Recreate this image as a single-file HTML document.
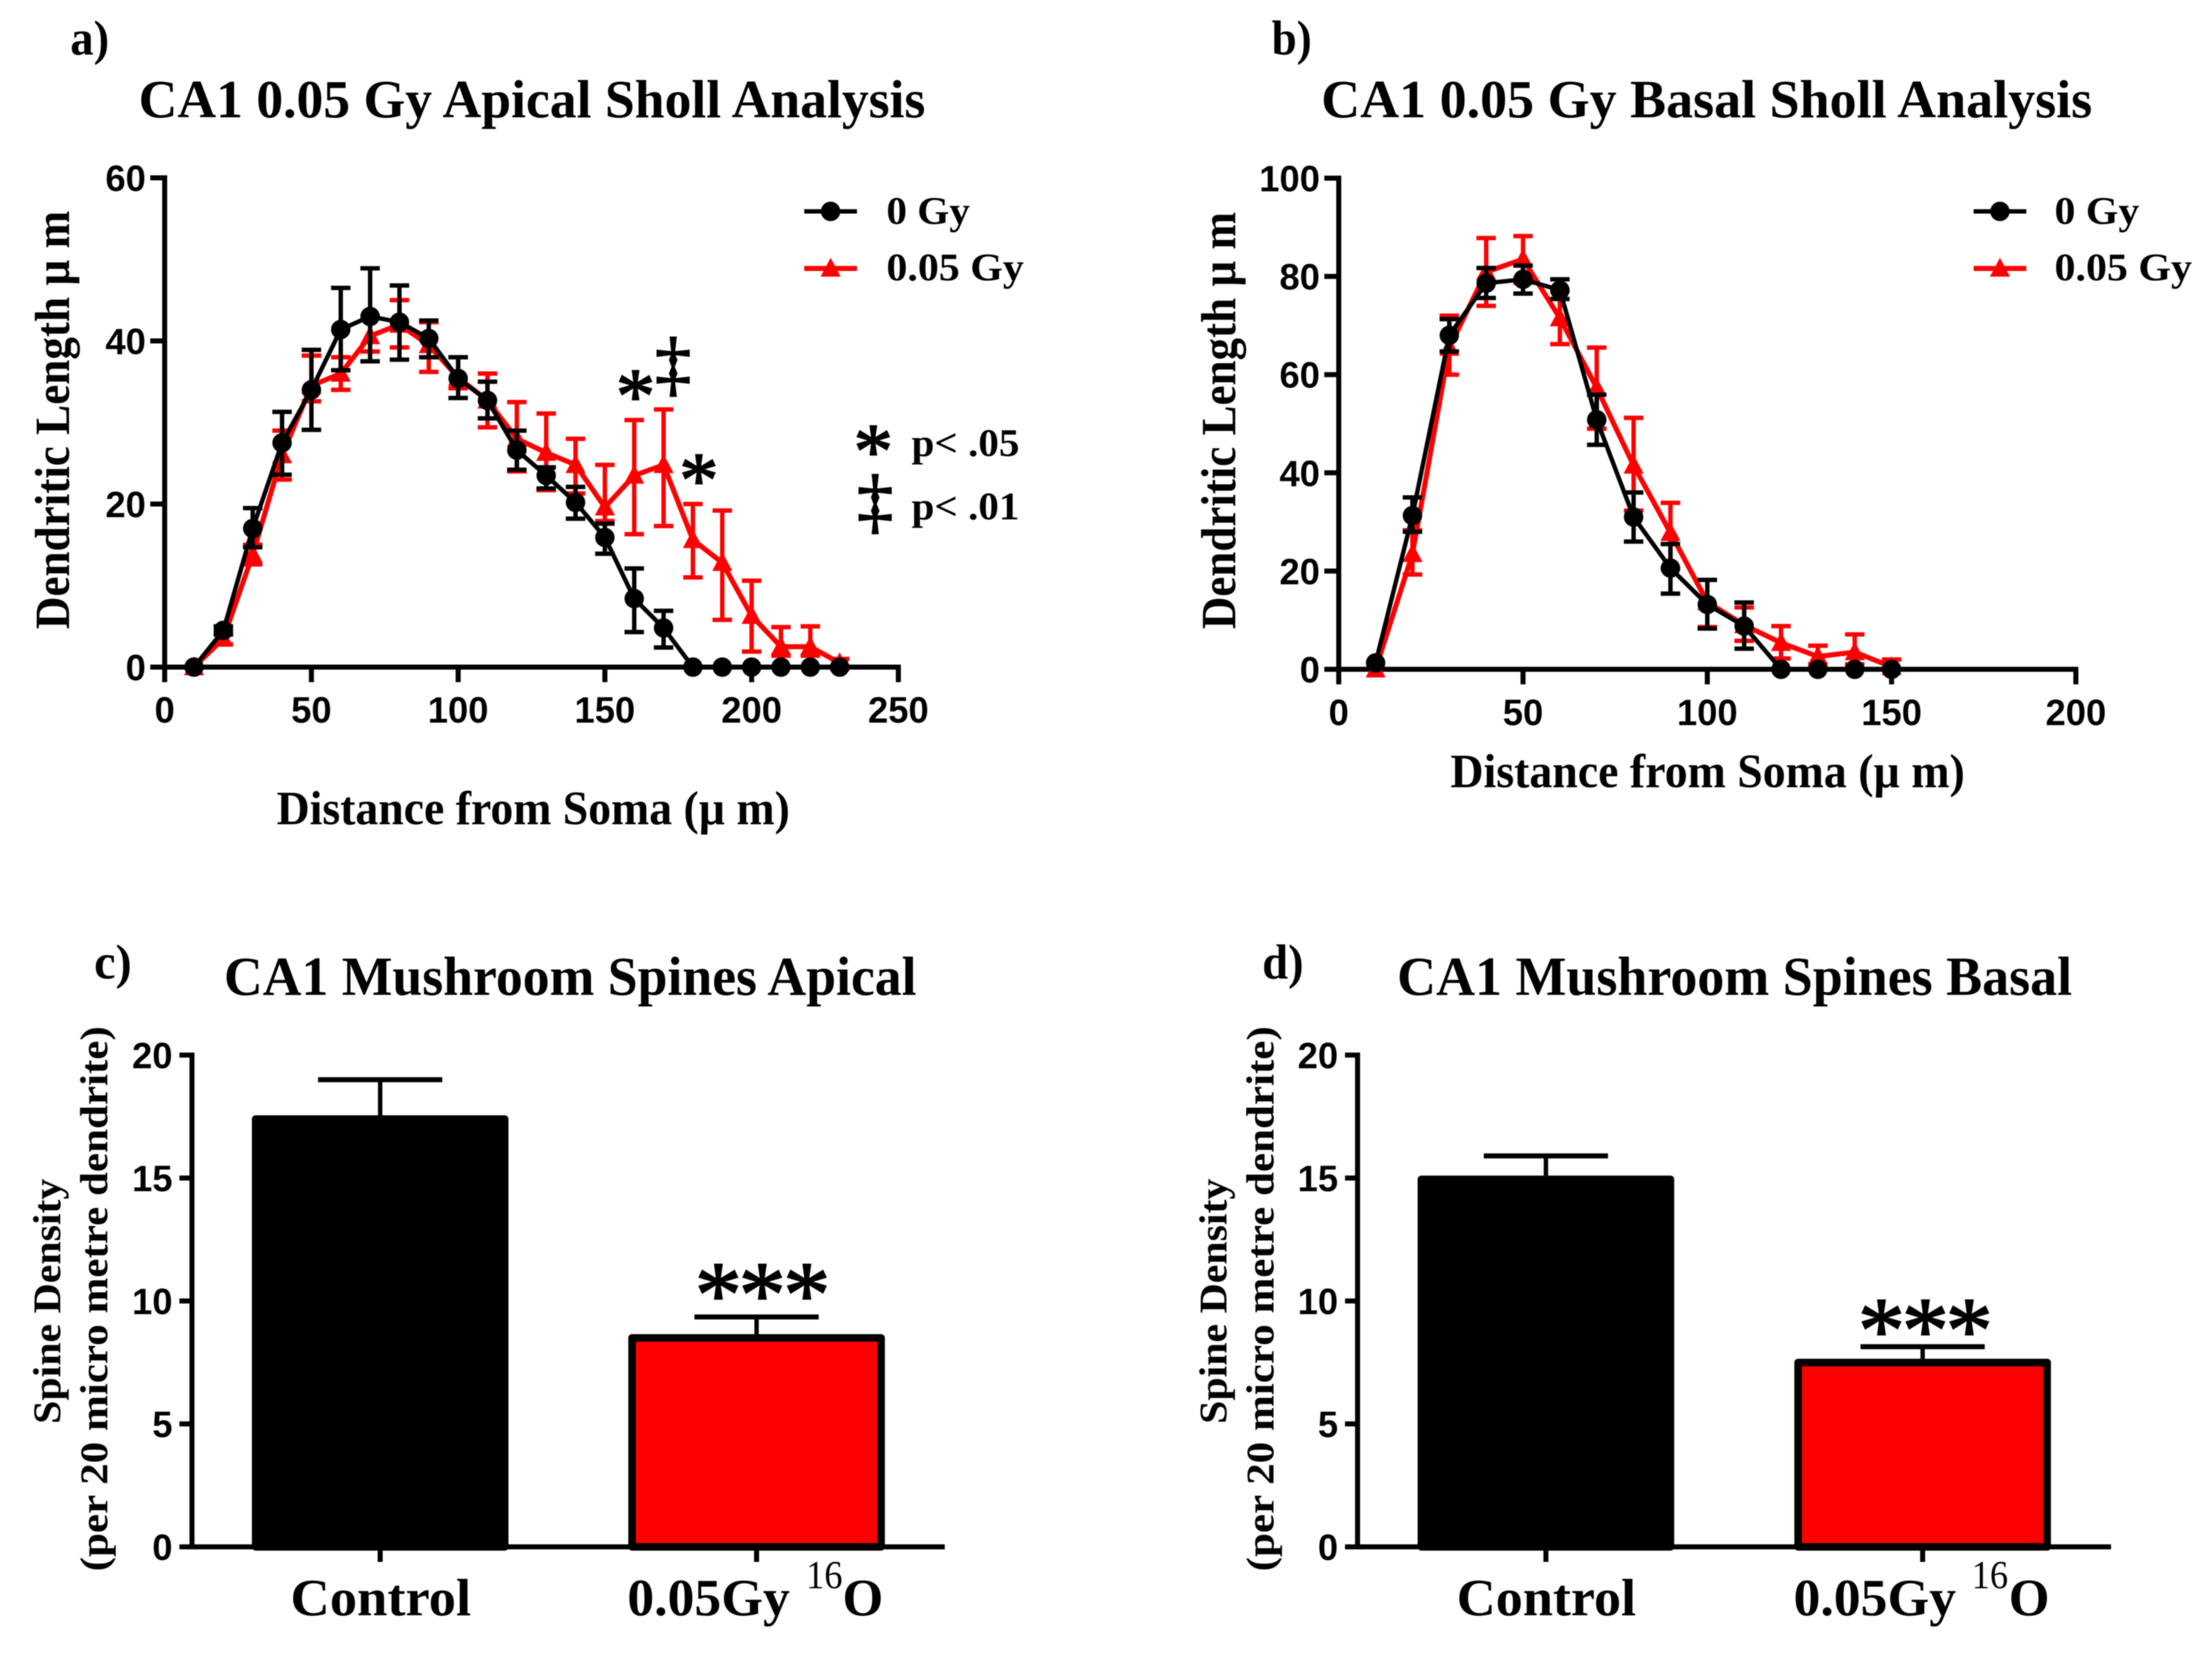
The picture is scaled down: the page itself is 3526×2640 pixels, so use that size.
<!DOCTYPE html>
<html lang="en">
<head>
<meta charset="utf-8">
<title>CA1 0.05 Gy Sholl Analysis and Mushroom Spines</title>
<style>
html,body{margin:0;padding:0;background:#fff;}
svg{display:block;filter:blur(0.7px);}
text{fill:#000;}
.serif{font-family:"Liberation Serif",serif;font-weight:bold;}
.sans{font-family:"Liberation Sans",sans-serif;font-weight:bold;}
.mark{font-weight:normal;stroke:#000;stroke-width:2.5px;}
</style>
</head>
<body>
<svg id="figure" xmlns="http://www.w3.org/2000/svg" width="3526" height="2640" viewBox="0 0 3526 2640">
<rect width="3526" height="2640" fill="#fff"/>
<g id="panel-a"></g>
<g id="panel-b"></g>
<g id="panel-c"></g>
<g id="panel-d"></g>

<text class="serif" x="112" y="87" font-size="78" textLength="62" lengthAdjust="spacingAndGlyphs">a)</text>
<text class="serif" x="221" y="187" font-size="86" textLength="1254" lengthAdjust="spacingAndGlyphs">CA1 0.05 Gy Apical Sholl Analysis</text>
<text class="serif" transform="translate(110 1003) rotate(-90)" font-size="78" textLength="667" lengthAdjust="spacingAndGlyphs">Dendritic Length µ m</text>
<text class="serif" x="441" y="1314" font-size="76" textLength="818" lengthAdjust="spacingAndGlyphs">Distance from Soma (µ m)</text>
<text class="serif" x="1413" y="357" font-size="62" textLength="133" lengthAdjust="spacingAndGlyphs">0 Gy</text>
<text class="serif" x="1413" y="447" font-size="62" textLength="219" lengthAdjust="spacingAndGlyphs">0.05 Gy</text>
<text class="serif mark" x="1013" y="673" font-size="125" text-anchor="middle">*</text>
<text class="serif mark" x="1073" y="618" font-size="115" text-anchor="middle">‡</text>
<text class="serif mark" x="1114" y="807" font-size="125" text-anchor="middle">*</text>
<text class="serif mark" x="1392" y="761" font-size="125" text-anchor="middle">*</text>
<text class="serif" x="1453" y="727" font-size="62" textLength="172" lengthAdjust="spacingAndGlyphs">p&lt; .05</text>
<text class="serif mark" x="1395" y="837" font-size="115" text-anchor="middle">‡</text>
<text class="serif" x="1453" y="828" font-size="62" textLength="172" lengthAdjust="spacingAndGlyphs">p&lt; .01</text>

<text class="serif" x="2027" y="87" font-size="78" textLength="64" lengthAdjust="spacingAndGlyphs">b)</text>
<text class="serif" x="2106" y="187" font-size="86" textLength="1229" lengthAdjust="spacingAndGlyphs">CA1 0.05 Gy Basal Sholl Analysis</text>
<text class="serif" transform="translate(1969 1003) rotate(-90)" font-size="78" textLength="665" lengthAdjust="spacingAndGlyphs">Dendritic Length µ m</text>
<text class="serif" x="2312" y="1255" font-size="76" textLength="820" lengthAdjust="spacingAndGlyphs">Distance from Soma (µ m)</text>
<text class="serif" x="3275" y="357" font-size="62" textLength="135" lengthAdjust="spacingAndGlyphs">0 Gy</text>
<text class="serif" x="3275" y="447" font-size="62" textLength="219" lengthAdjust="spacingAndGlyphs">0.05 Gy</text>

<text class="serif" x="150" y="1560" font-size="78" textLength="60" lengthAdjust="spacingAndGlyphs">c)</text>
<text class="serif" x="357" y="1586" font-size="88" textLength="1104" lengthAdjust="spacingAndGlyphs">CA1 Mushroom Spines Apical</text>
<text class="serif" transform="translate(96 2270) rotate(-90)" font-size="62" textLength="391" lengthAdjust="spacingAndGlyphs">Spine Density</text>
<text class="serif" transform="translate(171 2505) rotate(-90)" font-size="62" textLength="869" lengthAdjust="spacingAndGlyphs">(per 20 micro metre dendrite)</text>
<text class="serif mark" x="1145 1215 1286" y="2114" font-size="150" text-anchor="middle">***</text>
<text class="serif" x="463" y="2575" font-size="84" textLength="288" lengthAdjust="spacingAndGlyphs">Control</text>
<text class="serif" x="1000" y="2575" font-size="84" textLength="259" lengthAdjust="spacingAndGlyphs">0.05Gy</text>
<text class="serif" x="1285" y="2532" font-size="64" style="font-weight:normal" textLength="58" lengthAdjust="spacingAndGlyphs">16</text>
<text class="serif" x="1343" y="2575" font-size="84" textLength="65" lengthAdjust="spacingAndGlyphs">O</text>

<text class="serif" x="2012" y="1560" font-size="78" textLength="66" lengthAdjust="spacingAndGlyphs">d)</text>
<text class="serif" x="2227" y="1586" font-size="88" textLength="1076" lengthAdjust="spacingAndGlyphs">CA1 Mushroom Spines Basal</text>
<text class="serif" transform="translate(1955 2270) rotate(-90)" font-size="62" textLength="391" lengthAdjust="spacingAndGlyphs">Spine Density</text>
<text class="serif" transform="translate(2030 2505) rotate(-90)" font-size="62" textLength="869" lengthAdjust="spacingAndGlyphs">(per 20 micro metre dendrite)</text>
<text class="serif mark" x="2999 3069 3139" y="2171" font-size="150" text-anchor="middle">***</text>
<text class="serif" x="2322" y="2575" font-size="84" textLength="286" lengthAdjust="spacingAndGlyphs">Control</text>
<text class="serif" x="2859" y="2575" font-size="84" textLength="259" lengthAdjust="spacingAndGlyphs">0.05Gy</text>
<text class="serif" x="3143" y="2532" font-size="64" style="font-weight:normal" textLength="58" lengthAdjust="spacingAndGlyphs">16</text>
<text class="serif" x="3202" y="2575" font-size="84" textLength="65" lengthAdjust="spacingAndGlyphs">O</text>
</svg>

<script>
// Panel a: apical Sholl analysis
const aDistance = [10,20,30,40,50,60,70,80,90,100,110,120,130,140,150,160,170,180,190,200,210,220,230];
const aControlMean = [0,4.5,17,27.5,34,41.4,43,42.3,40.3,35.4,32.7,26.6,23.5,20.2,15.9,8.4,4.8,0,0,0,0,0,0];
const aControlHigh = [0,5,19.5,31.3,38.9,46.5,48.9,46.8,42.5,38,35,29,24.5,22.1,17.6,12.1,6.9,0,0,0,0,0,0];
const aControlLow = [0,4,14.7,23.6,29.1,36.4,37.5,37.7,38,33,30.5,24.2,21.9,18.2,13.9,4.3,2.4,0,0,0,0,0,0];
const aDoseMean = [0,3.5,13.8,26,34.5,36,40.6,42,39.5,35.5,32.7,28,26.3,24.8,19.6,23.5,24.8,15.6,12.8,6.3,2.5,2.5,0.5];
const aDoseHigh = [0,4.2,15,29,38.2,38,43,45,42.3,38,36,32.5,31.1,28,24.8,30.3,31.6,20,19.2,10.6,4.9,5,1];
const aDoseLow = [0,2.8,12.6,23,32.6,34,38.7,39.2,36.2,34.2,29.4,24,21.7,21.3,17.9,16.3,17.3,11,5.8,1.9,1.4,1.4,0];
const aXTicks = [0,50,100,150,200,250];
const aYTicks = [0,20,40,60];

// Panel b: basal Sholl analysis
const bDistance = [10,20,30,40,50,60,70,80,90,100,110,120,130,140,150];
const bControlMean = [1.3,31.3,68,78.6,79.4,77.2,50.8,31,20.6,13.2,8.8,0,0,0,0];
const bControlHigh = [1.3,35,71.3,81.7,82.2,79.4,55.9,36,25.5,18.2,13.6,0,0,0,0];
const bControlLow = [1.3,28,64.7,75.6,76.5,75.4,45.7,26,15.4,8.3,4.2,0,0,0,0];
const bDoseMean = [0,23.5,65.5,80.9,83.5,71.5,57.3,41.5,27.8,13.7,9,5.4,2.6,3.5,0.5];
const bDoseHigh = [0,28.3,72,87.8,88.2,77,65.5,51.2,33.9,18.2,12.6,8.8,4.8,7.1,2];
const bDoseLow = [0,19.3,60,74,78.7,66.2,49,32.3,20.5,8.6,5.8,2.2,1,1,0];
const bXTicks = [0,50,100,150,200];
const bYTicks = [0,20,40,60,80,100];

// Panels c and d: mushroom spine density
const spineCategories = ['Control','0.05Gy 16O'];
const spineYTicks = [0,5,10,15,20];
const cBarValues = [17.55,8.65];
const cBarErrors = [19,9.35];
const dBarValues = [15.1,7.65];
const dBarErrors = [15.9,8.14];

const NS = 'http://www.w3.org/2000/svg';
const RED = '#ff0000';
const BLACK = '#000000';

function linear(d0, d1, r0, r1) {
  return function (v) { return r0 + (v - d0) * (r1 - r0) / (d1 - d0); };
}

function make(tag, attrs, parent) {
  const node = document.createElementNS(NS, tag);
  for (const key in attrs) node.setAttribute(key, attrs[key]);
  parent.appendChild(node);
  return node;
}

function drawSeg(parent, x1, y1, x2, y2, width, color, name) {
  const el = make('line', {x1: x1, y1: y1, x2: x2, y2: y2, stroke: color, 'stroke-width': width}, parent);
  
  
  return el;
}

function drawTickLabel(parent, x, y, label, anchor, name) {
  const el = make('text', {x: x, y: y, 'text-anchor': anchor, 'font-size': 58, class: 'sans'}, parent);
  el.textContent = label;
  
  
  return el;
}

function drawTriangle(parent, cx, cy, name) {
  const el = make('polygon', {points: (cx - 16) + ',' + (cy + 13) + ' ' + (cx + 16) + ',' + (cy + 13) + ' ' + cx + ',' + (cy - 17), fill: RED}, parent);
  
  
  return el;
}

function drawCircle(parent, cx, cy, name) {
  const el = make('circle', {cx: cx, cy: cy, r: 15.5, fill: BLACK}, parent);
  
  
  return el;
}

function drawSeries(parent, xs, mean, high, low, sx, sy, color, lineWidth, marker, label) {
  const pts = xs.map(function (d, i) { return sx(d) + ',' + sy(mean[i]); }).join(' ');
  const line = make('polyline', {points: pts, fill: 'none', stroke: color, 'stroke-width': lineWidth, 'stroke-linejoin': 'round'}, parent);
  
  
  xs.forEach(function (d, i) {
    if (high[i] !== low[i]) {
      drawSeg(parent, sx(d), sy(high[i]), sx(d), sy(low[i]), 7, color, label + '-error-bar-' + d);
      drawSeg(parent, sx(d) - 15.5, sy(high[i]), sx(d) + 15.5, sy(high[i]), 7, color, label + '-error-cap-high-' + d);
      drawSeg(parent, sx(d) - 15.5, sy(low[i]), sx(d) + 15.5, sy(low[i]), 7, color, label + '-error-cap-low-' + d);
    }
    if (marker === 'circle') drawCircle(parent, sx(d), sy(mean[i]), label + '-point-' + d);
    else drawTriangle(parent, sx(d), sy(mean[i]), label + '-point-' + d);
  });
}

function drawLegendKey(parent, x1, x2, y, color, lineWidth, marker, name) {
  drawSeg(parent, x1, y, x2, y, lineWidth, color, name + '-line');
  const cx = (x1 + x2) / 2;
  if (marker === 'circle') drawCircle(parent, cx, y, name + '-marker');
  else drawTriangle(parent, cx, y, name + '-marker');
}

function drawLinePanel(cfg) {
  const g = document.getElementById(cfg.id);
  const sx = linear(cfg.xTicks[0], cfg.xTicks[cfg.xTicks.length - 1], cfg.x0, cfg.x1);
  const sy = linear(cfg.yTicks[0], cfg.yTicks[cfg.yTicks.length - 1], cfg.y0, cfg.y1);
  // axes
  drawSeg(g, cfg.x0, cfg.y1 - 4, cfg.x0, cfg.y0 + 24, 8, BLACK, cfg.prefix + '-y-axis');
  drawSeg(g, cfg.x0 - 23, cfg.y0, cfg.x1 + 4, cfg.y0, 8, BLACK, cfg.prefix + '-x-axis');
  cfg.yTicks.forEach(function (t) {
    drawSeg(g, cfg.x0 - 23, sy(t), cfg.x0, sy(t), 8, BLACK, cfg.prefix + '-y-tick-' + t);
    drawTickLabel(g, cfg.x0 - 30, sy(t) + 21, String(t), 'end', cfg.prefix + '-y-tick-label-' + t);
  });
  cfg.xTicks.forEach(function (t) {
    drawSeg(g, sx(t), cfg.y0, sx(t), cfg.y0 + 24, 8, BLACK, cfg.prefix + '-x-tick-' + t);
    drawTickLabel(g, sx(t), cfg.tickBase, String(t), 'middle', cfg.prefix + '-x-tick-label-' + t);
  });
  // series: red under black
  drawSeries(g, cfg.xs, cfg.doseMean, cfg.doseHigh, cfg.doseLow, sx, sy, RED, 8, 'triangle', cfg.prefix + '-dose-series');
  drawSeries(g, cfg.xs, cfg.controlMean, cfg.controlHigh, cfg.controlLow, sx, sy, BLACK, 7, 'circle', cfg.prefix + '-control-series');
  // legend
  drawLegendKey(g, cfg.legendX1, cfg.legendX2, 337, BLACK, 7, 'circle', cfg.prefix + '-legend-0gy');
  drawLegendKey(g, cfg.legendX1, cfg.legendX2, 428, RED, 8, 'triangle', cfg.prefix + '-legend-005gy');
}

function drawBarPanel(cfg) {
  const g = document.getElementById(cfg.id);
  const sy = linear(spineYTicks[0], spineYTicks[spineYTicks.length - 1], cfg.y0, cfg.y1);
  const step = (cfg.x1 - cfg.x0) / spineCategories.length;
  const pos = function (i) { return cfg.x0 + (i + 0.5) * step; };
  const fills = [BLACK, RED];
  spineCategories.forEach(function (c, i) {
    const cx = pos(i);
    drawSeg(g, cx, sy(cfg.errors[i]), cx, sy(cfg.values[i]), 7, BLACK, cfg.prefix + '-error-bar-' + i);
    drawSeg(g, cx - 99, sy(cfg.errors[i]), cx + 99, sy(cfg.errors[i]), 8, BLACK, cfg.prefix + '-error-cap-' + i);
    const bar = make('rect', {x: cx - 198.5, y: sy(cfg.values[i]) + 6, width: 397, height: cfg.y0 - sy(cfg.values[i]) - 6, fill: fills[i], stroke: BLACK, 'stroke-width': 12, 'stroke-linejoin': 'round'}, g);
    
    
    drawSeg(g, cx, cfg.y0, cx, cfg.y0 + 24, 8, BLACK, cfg.prefix + '-x-tick-' + i);
  });
  drawSeg(g, cfg.x0, cfg.y1 - 4, cfg.x0, cfg.y0, 8, BLACK, cfg.prefix + '-y-axis');
  drawSeg(g, cfg.x0 - 20, cfg.y0, cfg.x1, cfg.y0, 8, BLACK, cfg.prefix + '-x-axis');
  spineYTicks.forEach(function (t) {
    drawSeg(g, cfg.x0 - 20, sy(t), cfg.x0, sy(t), 8, BLACK, cfg.prefix + '-y-tick-' + t);
    drawTickLabel(g, cfg.x0 - 31, sy(t) + 21, String(t), 'end', cfg.prefix + '-y-tick-label-' + t);
  });
}

drawLinePanel({id: 'panel-a', prefix: 'panel-a', xs: aDistance, xTicks: aXTicks, yTicks: aYTicks,
  controlMean: aControlMean, controlHigh: aControlHigh, controlLow: aControlLow,
  doseMean: aDoseMean, doseHigh: aDoseHigh, doseLow: aDoseLow,
  x0: 262.5, x1: 1432, y0: 1063.5, y1: 283.5, tickBase: 1152, legendX1: 1282, legendX2: 1366});
drawLinePanel({id: 'panel-b', prefix: 'panel-b', xs: bDistance, xTicks: bXTicks, yTicks: bYTicks,
  controlMean: bControlMean, controlHigh: bControlHigh, controlLow: bControlLow,
  doseMean: bDoseMean, doseHigh: bDoseHigh, doseLow: bDoseLow,
  x0: 2134, x1: 3309, y0: 1067, y1: 284, tickBase: 1156, legendX1: 3146, legendX2: 3230});
drawBarPanel({id: 'panel-c', prefix: 'panel-c', values: cBarValues, errors: cBarErrors, x0: 306, x1: 1506, y0: 2466, y1: 1682});
drawBarPanel({id: 'panel-d', prefix: 'panel-d', values: dBarValues, errors: dBarErrors, x0: 2164, x1: 3365, y0: 2466, y1: 1682});
</script>
</body>
</html>
